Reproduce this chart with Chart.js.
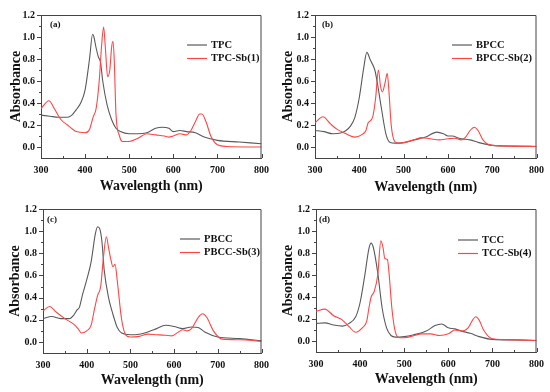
<!DOCTYPE html>
<html>
<head>
<meta charset="utf-8">
<script src="https://cdn.jsdelivr.net/npm/chart.js@4.4.1/dist/chart.umd.min.js"></script>
<style>
  body { margin: 0; background: #ffffff; }
  .panel { position: absolute; width: 275px; height: 196px; }
</style>
</head>
<body>
<div class="panel" style="left:0;top:0"><canvas id="chartA"></canvas></div>
<div class="panel" style="left:275px;top:0"><canvas id="chartB"></canvas></div>
<div class="panel" style="left:0;top:196px"><canvas id="chartC"></canvas></div>
<div class="panel" style="left:275px;top:196px"><canvas id="chartD"></canvas></div>
<script>
// values (wavelength in nm, absorbance)
var tpcX = [300, 320, 340, 360, 370, 380, 390, 400, 410, 417, 420, 425, 430, 435, 440, 450, 460, 470, 480, 500, 520, 540, 560, 575, 590, 600, 615, 630, 650, 670, 700, 750, 800];
var tpcY = [0.29, 0.28, 0.27, 0.27, 0.29, 0.34, 0.40, 0.52, 0.80, 1.025, 1.0, 0.90, 0.82, 0.77, 0.60, 0.38, 0.25, 0.17, 0.14, 0.12, 0.12, 0.13, 0.17, 0.18, 0.17, 0.14, 0.15, 0.14, 0.13, 0.09, 0.06, 0.045, 0.03];
var tpcSbX = [300, 318, 330, 345, 360, 380, 400, 410, 418, 425, 432, 437, 442, 446, 451, 456, 460, 463, 466, 470, 478, 485, 500, 520, 540, 560, 580, 590, 600, 615, 630, 640, 650, 660, 665, 675, 685, 700, 720, 800];
var tpcSbY = [0.35, 0.42, 0.35, 0.25, 0.20, 0.14, 0.13, 0.16, 0.27, 0.35, 0.60, 0.90, 1.09, 0.90, 0.64, 0.70, 0.90, 0.96, 0.80, 0.30, 0.10, 0.05, 0.05, 0.08, 0.12, 0.11, 0.10, 0.09, 0.10, 0.12, 0.11, 0.15, 0.23, 0.30, 0.30, 0.22, 0.10, 0.02, 0.005, 0.0];

var bpccX = [300, 320, 340, 360, 370, 380, 390, 400, 410, 417, 425, 435, 440, 450, 460, 470, 480, 500, 520, 550, 575, 590, 600, 610, 625, 640, 650, 670, 700, 750, 800];
var bpccY = [0.15, 0.14, 0.12, 0.13, 0.15, 0.19, 0.27, 0.45, 0.72, 0.86, 0.79, 0.70, 0.60, 0.35, 0.12, 0.04, 0.035, 0.04, 0.06, 0.09, 0.135, 0.12, 0.10, 0.10, 0.08, 0.07, 0.065, 0.04, 0.015, 0.008, 0.005];
var bpccSbX = [300, 318, 335, 350, 370, 390, 405, 415, 420, 430, 437, 443, 448, 452, 458, 463, 467, 472, 480, 490, 500, 520, 540, 560, 580, 600, 615, 630, 640, 650, 660, 668, 680, 700, 800];
var bpccSbY = [0.22, 0.275, 0.21, 0.16, 0.12, 0.09, 0.11, 0.15, 0.22, 0.27, 0.45, 0.70, 0.55, 0.50, 0.58, 0.67, 0.50, 0.20, 0.05, 0.035, 0.04, 0.06, 0.085, 0.075, 0.065, 0.075, 0.08, 0.065, 0.09, 0.15, 0.18, 0.15, 0.06, 0.015, 0.005];

var pbccX = [300, 320, 340, 360, 370, 378, 383, 390, 400, 410, 420, 425, 430, 435, 440, 450, 460, 470, 480, 500, 520, 540, 560, 580, 600, 620, 640, 655, 670, 700, 750, 800];
var pbccY = [0.21, 0.23, 0.21, 0.21, 0.24, 0.29, 0.31, 0.42, 0.56, 0.72, 0.98, 1.04, 1.02, 0.90, 0.65, 0.40, 0.25, 0.13, 0.08, 0.065, 0.07, 0.09, 0.12, 0.15, 0.14, 0.12, 0.135, 0.13, 0.09, 0.045, 0.03, 0.01];
var pbccSbX = [300, 315, 330, 350, 370, 380, 388, 400, 410, 418, 425, 432, 438, 445, 450, 455, 460, 465, 470, 480, 490, 500, 520, 540, 560, 580, 595, 610, 620, 630, 640, 655, 665, 675, 690, 710, 750, 800];
var pbccSbY = [0.28, 0.32, 0.27, 0.21, 0.16, 0.12, 0.08, 0.10, 0.15, 0.30, 0.42, 0.50, 0.75, 0.95, 0.85, 0.75, 0.68, 0.70, 0.55, 0.20, 0.06, 0.045, 0.05, 0.07, 0.065, 0.06, 0.055, 0.09, 0.11, 0.10, 0.12, 0.22, 0.255, 0.22, 0.10, 0.025, 0.02, 0.005];

var tccX = [300, 320, 340, 360, 375, 390, 400, 410, 420, 425, 430, 440, 450, 460, 470, 480, 500, 520, 550, 570, 585, 600, 615, 630, 650, 670, 700, 750, 800];
var tccY = [0.16, 0.165, 0.145, 0.135, 0.16, 0.22, 0.35, 0.58, 0.84, 0.89, 0.85, 0.62, 0.30, 0.12, 0.05, 0.035, 0.04, 0.055, 0.09, 0.14, 0.155, 0.12, 0.11, 0.09, 0.07, 0.04, 0.015, 0.01, 0.005];
var tccSbX = [300, 320, 340, 360, 375, 390, 405, 415, 420, 425, 432, 440, 447, 452, 456, 462, 466, 472, 480, 490, 500, 520, 540, 560, 580, 600, 615, 630, 645, 655, 662, 670, 680, 700, 750, 800];
var tccSbY = [0.27, 0.29, 0.23, 0.19, 0.13, 0.08, 0.12, 0.18, 0.30, 0.40, 0.45, 0.60, 0.91, 0.85, 0.75, 0.74, 0.60, 0.30, 0.08, 0.03, 0.03, 0.045, 0.065, 0.065, 0.05, 0.065, 0.10, 0.09, 0.12, 0.19, 0.22, 0.19, 0.10, 0.02, 0.01, 0.005];

var grayColor = '#5a5a5a';
var redColor = '#ff4545';
var serif = '"Liberation Serif", "Times New Roman", serif';

function toPoints(xs, ys) {
    return xs.map(function (x, i) { return { x: x, y: ys[i] }; });
}

// frame (top/right edges), Origin-style ticks, panel tag and in-plot legend
var framePlugin = {
    id: 'frame',
    afterDraw: function (chart, args, o) {
        var ctx = chart.ctx, a = chart.chartArea;
        var xs = chart.scales.x, ys = chart.scales.y;
        ctx.save();
        ctx.strokeStyle = '#444444';
        ctx.lineWidth = 1;
        ctx.beginPath();
        ctx.moveTo(a.left, a.top + 0.5);
        ctx.lineTo(a.right - 0.5, a.top + 0.5);
        ctx.lineTo(a.right - 0.5, a.bottom);
        ys.ticks.forEach(function (t) {
            if (t.value < 0) return;
            var y = Math.round(ys.getPixelForValue(t.value)) + 0.5;
            var len = t.label ? 4 : 2;
            ctx.moveTo(a.left, y);
            ctx.lineTo(a.left - len, y);
        });
        xs.ticks.forEach(function (t) {
            var x = Math.round(xs.getPixelForValue(t.value)) + 0.5;
            var len = t.label ? 4 : 2;
            ctx.moveTo(x, a.bottom);
            ctx.lineTo(x, a.bottom - len);
        });
        ctx.stroke();

        ctx.fillStyle = '#111111';
        ctx.textBaseline = 'middle';
        ctx.font = 'bold 9px ' + serif;
        ctx.fillText(o.tag, a.left + o.tagX, a.top + o.tagY);

        ctx.font = 'bold 10.5px ' + serif;
        chart.data.datasets.forEach(function (ds, i) {
            var y = a.top + o.legY + i * 13.5;
            ctx.strokeStyle = ds.borderColor;
            ctx.lineWidth = 1.2;
            ctx.beginPath();
            ctx.moveTo(a.left + o.legX, y);
            ctx.lineTo(a.left + o.legX + 20, y);
            ctx.stroke();
            ctx.fillText(ds.label, a.left + o.legX + 24, y);
        });
        ctx.restore();
    }
};

function makePanel(id, p) {
    var ctx = document.getElementById(id).getContext('2d');
    return new Chart(ctx, {
        type: 'line',
        data: {
            datasets: [{
                label: p.names[0],
                data: toPoints(p.grayX, p.grayY),
                borderColor: grayColor,
                borderWidth: 1.1,
                pointRadius: 0,
                cubicInterpolationMode: 'monotone',
                order: 2
            }, {
                label: p.names[1],
                data: toPoints(p.redX, p.redY),
                borderColor: redColor,
                borderWidth: 1.1,
                pointRadius: 0,
                cubicInterpolationMode: 'monotone',
                order: 1
            }]
        },
        options: {
            responsive: true,
            maintainAspectRatio: false,
            animation: false,
            devicePixelRatio: 1,
            layout: { padding: { left: 0, top: p.top, right: 275 - p.right, bottom: 0 } },
            scales: {
                x: {
                    type: 'linear',
                    min: 300,
                    max: 800,
                    grid: { display: false, drawTicks: false },
                    border: { display: true, color: '#444444', width: 1 },
                    ticks: {
                        stepSize: 50,
                        autoSkip: false,
                        maxRotation: 0,
                        padding: 6,
                        color: '#111111',
                        font: { family: serif, size: 10, weight: 'bold' },
                        callback: function (v) { return v % 100 === 0 ? String(v) : ''; }
                    },
                    title: {
                        display: true,
                        text: 'Wavelength (nm)',
                        color: '#111111',
                        padding: { top: 0, bottom: p.xTitlePad },
                        font: { family: serif, size: 14, weight: 'bold' }
                    },
                    afterFit: function (s) { s.height = 196 - p.bottom; }
                },
                y: {
                    min: -0.1,
                    max: 1.2,
                    grid: { display: false, drawTicks: false },
                    border: { display: true, color: '#444444', width: 1 },
                    ticks: {
                        stepSize: 0.1,
                        autoSkip: false,
                        padding: 6,
                        color: '#111111',
                        font: { family: serif, size: 10, weight: 'bold' },
                        callback: function (v) {
                            var k = Math.round(v * 10);
                            return (k >= 0 && k % 2 === 0) ? (k / 10).toFixed(1) : '';
                        }
                    },
                    title: {
                        display: true,
                        text: 'Absorbance',
                        color: '#111111',
                        padding: { top: p.yTitlePad, bottom: 0 },
                        font: { family: serif, size: 14, weight: 'bold' }
                    },
                    afterFit: function (s) { s.width = p.left; }
                }
            },
            plugins: {
                legend: { display: false },
                tooltip: { enabled: false },
                frame: { tag: p.tag, tagX: p.tagX, tagY: p.tagY, legX: p.legX, legY: p.legY }
            }
        },
        plugins: [framePlugin]
    });
}

makePanel('chartA', {
    names: ['TPC', 'TPC-Sb(1)'], tag: '(a)',
    grayX: tpcX, grayY: tpcY, redX: tpcSbX, redY: tpcSbY,
    left: 41, right: 266, top: 15, bottom: 158,
    xTitlePad: 1, yTitlePad: 7.5,
    tagX: 9, tagY: 10, legX: 146, legY: 30
});
makePanel('chartB', {
    names: ['BPCC', 'BPCC-Sb(2)'], tag: '(b)',
    grayX: bpccX, grayY: bpccY, redX: bpccSbX, redY: bpccSbY,
    left: 40, right: 263, top: 15, bottom: 158,
    xTitlePad: 0, yTitlePad: 4.5,
    tagX: 7, tagY: 10, legX: 137, legY: 30
});
makePanel('chartC', {
    names: ['PBCC', 'PBCC-Sb(3)'], tag: '(c)',
    grayX: pbccX, grayY: pbccY, redX: pbccSbX, redY: pbccSbY,
    left: 43, right: 266, top: 13, bottom: 157,
    xTitlePad: 3.5, yTitlePad: 6.5,
    tagX: 4, tagY: 11, legX: 137, legY: 30
});
makePanel('chartD', {
    names: ['TCC', 'TCC-Sb(4)'], tag: '(d)',
    grayX: tccX, grayY: tccY, redX: tccSbX, redY: tccSbY,
    left: 41, right: 263, top: 13, bottom: 156,
    xTitlePad: 4.5, yTitlePad: 4.5,
    tagX: 3, tagY: 11, legX: 142, legY: 31
});
</script>
</body>
</html>
